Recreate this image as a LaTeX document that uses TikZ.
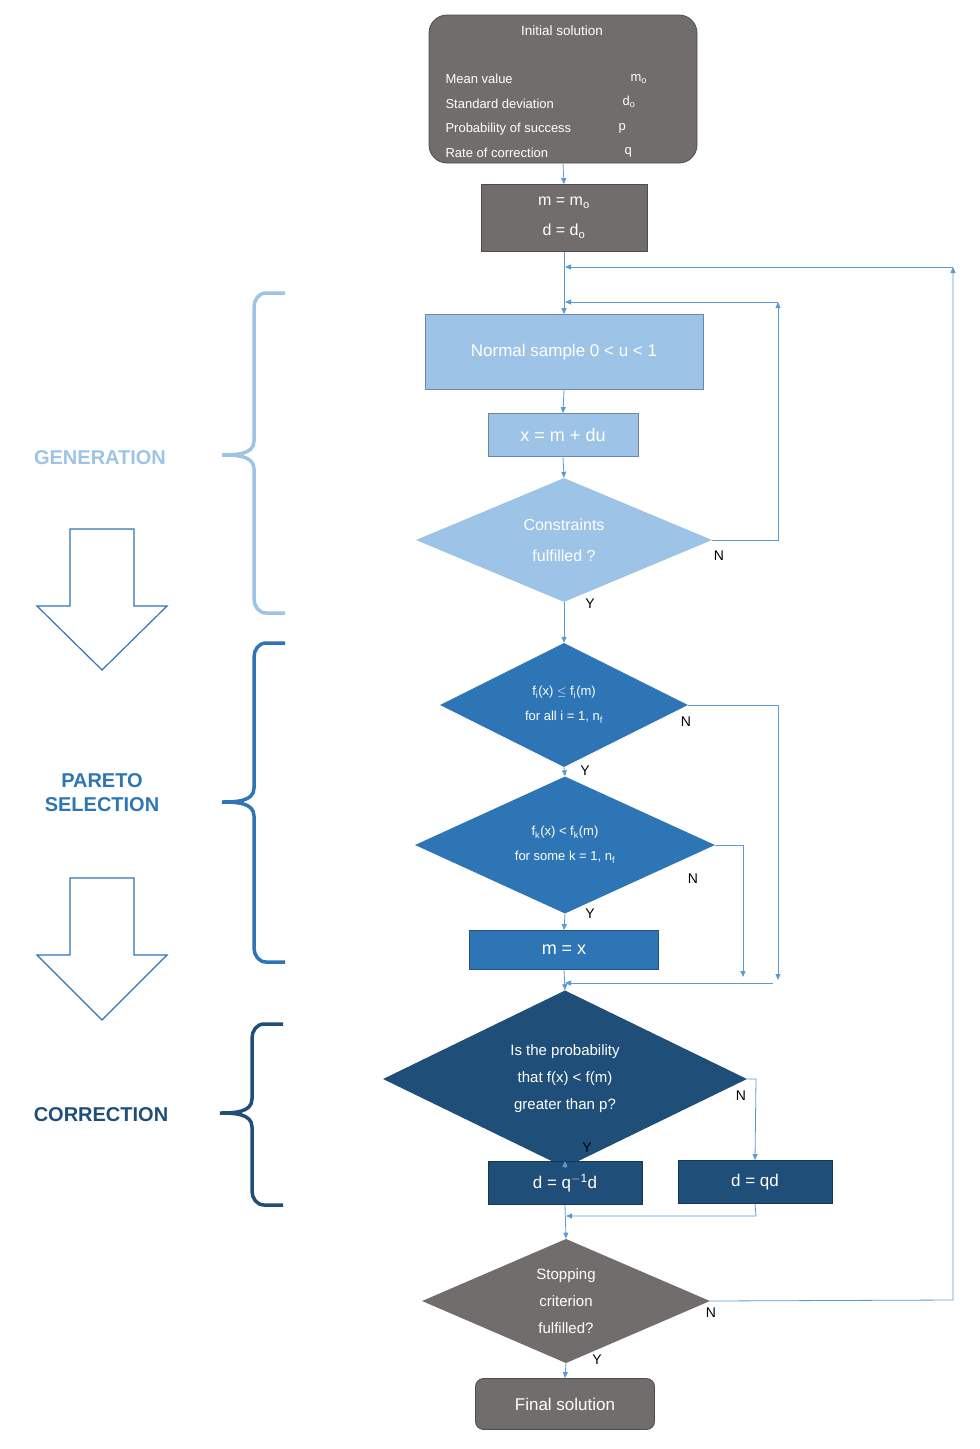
\documentclass[tikz,border=0pt]{standalone}
\usepackage{fontspec}
\setmainfont{Liberation Sans}
\usetikzlibrary{shapes.geometric,arrows.meta}
\definecolor{gr}{HTML}{716D6C}
\definecolor{lb}{HTML}{9DC3E6}
\definecolor{mb}{HTML}{2E75B6}
\definecolor{db}{HTML}{1F4E79}
\definecolor{ln}{HTML}{5B9BD5}
\begin{document}
\begin{tikzpicture}[x=1pt,y=-1pt,
 box/.style={draw=#1!70!black,fill=#1,text=white,inner sep=0,line width=0.8pt},
 dia/.style={diamond,draw=none,fill=#1,text=white,inner sep=0,align=center},
 con/.style={draw=ln,line width=0.8pt,-{Triangle[length=6pt,width=5pt]}},
 lab/.style={font=\fontsize{14}{14}\selectfont},
 brace/.style={line width=3.5pt,draw=#1},
 side/.style={font=\bfseries\fontsize{20}{24}\selectfont,text=#1,align=center},
 harrow/.style={draw=mb,line width=1.2pt,fill=white}]
\useasboundingbox (0,0) rectangle (980,1449);
% initial
\node[box=gr,rounded corners=18pt,minimum width=268pt,minimum height=148pt] (init) at (563,89) {};
\node[text=white,font=\fontsize{13.5}{14}\selectfont] (t0) at (562,31) {Initial solution};
\node[text=white,anchor=west,font=\fontsize{13}{24.5}\selectfont,align=left] (t1) at (442,116) {Mean value\\Standard deviation\\Probability of success\\Rate of correction};
\node[text=white,anchor=west,font=\fontsize{13}{24.5}\selectfont,align=left] (t2) at (615,116) {\hspace{12pt}m$_{\mathrm o}$\\\hspace{4pt}d$_{\mathrm o}$\\p\\\hspace{6pt}q};
\node[box=gr,minimum width=166pt,minimum height=67pt,align=center,font=\fontsize{16}{30}\selectfont] (m0) at (564,218) {m = m$_{\mathrm o}$\\d = d$_{\mathrm o}$};
% generation
\node[box=lb,minimum width=278pt,minimum height=75pt,font=\fontsize{17}{20}\selectfont] (ns) at (564,352) {Normal sample 0 < u < 1};
\node[box=lb,minimum width=150pt,minimum height=43pt,font=\fontsize{18}{20}\selectfont] (xm) at (563,435) {x = m + du};
\node[dia=lb,minimum width=296pt,minimum height=124pt,font=\fontsize{16}{31}\selectfont] (c1) at (564,540) {Constraints\\fulfilled ?};
% pareto
\node[dia=mb,minimum width=248pt,minimum height=124pt,font=\fontsize{13}{25}\selectfont] (p1) at (564,705) {f$_{\mathrm i}$(x) $\leq$ f$_{\mathrm i}$(m)\\for all i = 1, n$_{\mathrm f}$};
\node[dia=mb,minimum width=300pt,minimum height=124pt,font=\fontsize{13}{25}\selectfont] (p2) at (565,845) {f$_{\mathrm k}$(x) < f$_{\mathrm k}$(m)\\for some k = 1, n$_{\mathrm f}$};
\node[box=mb,minimum width=189pt,minimum height=39pt,font=\fontsize{18}{20}\selectfont] (mx) at (564,950) {m = x};
% correction
\node[dia=db,minimum width=364pt,minimum height=123pt,font=\fontsize{15}{27}\selectfont] (cr) at (565,1079) {Is the probability\\that f(x) < f(m)\\greater than p?};
\node[box=db,minimum width=154pt,minimum height=43pt,font=\fontsize{17}{20}\selectfont] (d1) at (565,1183) {d = q$^{\mathrm{-1}}$d};
\node[box=db,minimum width=154pt,minimum height=43pt,font=\fontsize{17}{20}\selectfont] (d2) at (755,1182) {d = qd};
% stopping
\node[dia=gr,minimum width=288pt,minimum height=118pt,font=\fontsize{15}{27}\selectfont] (st) at (566,1301) {Stopping\\criterion\\fulfilled?};
\node[box=gr,rounded corners=8pt,minimum width=179pt,minimum height=51pt,font=\fontsize{17}{20}\selectfont] (fin) at (565,1404) {Final solution};
% coordinates
\coordinate (o1) at (953,1300); \coordinate (o2) at (953,267); \coordinate (o3) at (565,267);
\coordinate (i1) at (778,540); \coordinate (i2) at (778,302); \coordinate (i3) at (565,302);
\coordinate (a1) at (778,705); \coordinate (a2) at (778,980);
\coordinate (b1) at (743,845); \coordinate (b2) at (743,977);
\coordinate (j1) at (773,983); \coordinate (j2) at (565,983);
\coordinate (k1) at (756,1079);
\coordinate (e1) at (756,1216); \coordinate (e2) at (566,1216);
% connectors
\draw[con] (init.south) -- (m0.north);
\draw[con] (m0.south) -- (ns.north);
\draw[con] (ns.south) -- (xm.north);
\draw[con] (xm.south) -- (c1.north);
\draw[con] (c1.south) -- (p1.north);
\draw[con] (p1.south) -- (p2.north);
\draw[con] (p2.south) -- (mx.north);
\draw[con] (mx.south) -- (cr.north);
\draw[con] (cr.south) -- (d1.north);
\draw[con] (d1.south) -- (st.north);
\draw[con] (st.south) -- (fin.north);
\draw[con] (st.east) -- (o1) -- (o2);
\draw[con] (o2) -- (o3);
\draw[con] (c1.east) -- (i1) -- (i2);
\draw[con] (i2) -- (i3);
\draw[con] (p1.east) -- (a1) -- (a2);
\draw[con] (p2.east) -- (b1) -- (b2);
\draw[con] (j1) -- (j2);
\draw[con] (cr.east) -- (k1) -- (d2.north);
\draw[con] (d2.south) -- (e1) -- (e2);
% labels
\node[lab] (n1) at (719,556) {N}; \node[lab] (y1) at (590,604) {Y};
\node[lab] (n2) at (686,722) {N}; \node[lab] (y2) at (585,771) {Y};
\node[lab] (n3) at (693,879) {N}; \node[lab] (y3) at (590,914) {Y};
\node[lab] (n4) at (741,1096) {N}; \node[lab] (y4) at (587,1148) {Y};
\node[lab] (n5) at (711,1313) {N}; \node[lab] (y5) at (597,1360) {Y};
% left side
\draw[brace=lb] (285,293) -- (266,293) to[out=180,in=90] (254,307) -- (254,441) to[out=-90,in=0] (222,455) to[out=0,in=90] (254,469) -- (254,599) to[out=-90,in=180] (266,613) -- (285,613);
\draw[brace=mb] (285,643) -- (266,643) to[out=180,in=90] (254,657) -- (254,788) to[out=-90,in=0] (222,802) to[out=0,in=90] (254,816) -- (254,948) to[out=-90,in=180] (266,962) -- (285,962);
\draw[brace=db] (283,1024) -- (264,1024) to[out=180,in=90] (252,1038) -- (252,1099) to[out=-90,in=0] (220,1113) to[out=0,in=90] (252,1127) -- (252,1191) to[out=-90,in=180] (264,1205) -- (283,1205);
\node[side=lb] (g) at (100,458) {GENERATION};
\node[side=mb] (ps) at (102,793) {PARETO\\SELECTION};
\node[side=db] (cc) at (101,1115) {CORRECTION};
\draw[harrow] (70,529) -- (134,529) -- (134,606) -- (167,606) -- (102,670) -- (37,606) -- (70,606) -- cycle;
\draw[harrow] (70,878) -- (134,878) -- (134,955) -- (167,955) -- (102,1020) -- (37,955) -- (70,955) -- cycle;
\end{tikzpicture}
\end{document}
